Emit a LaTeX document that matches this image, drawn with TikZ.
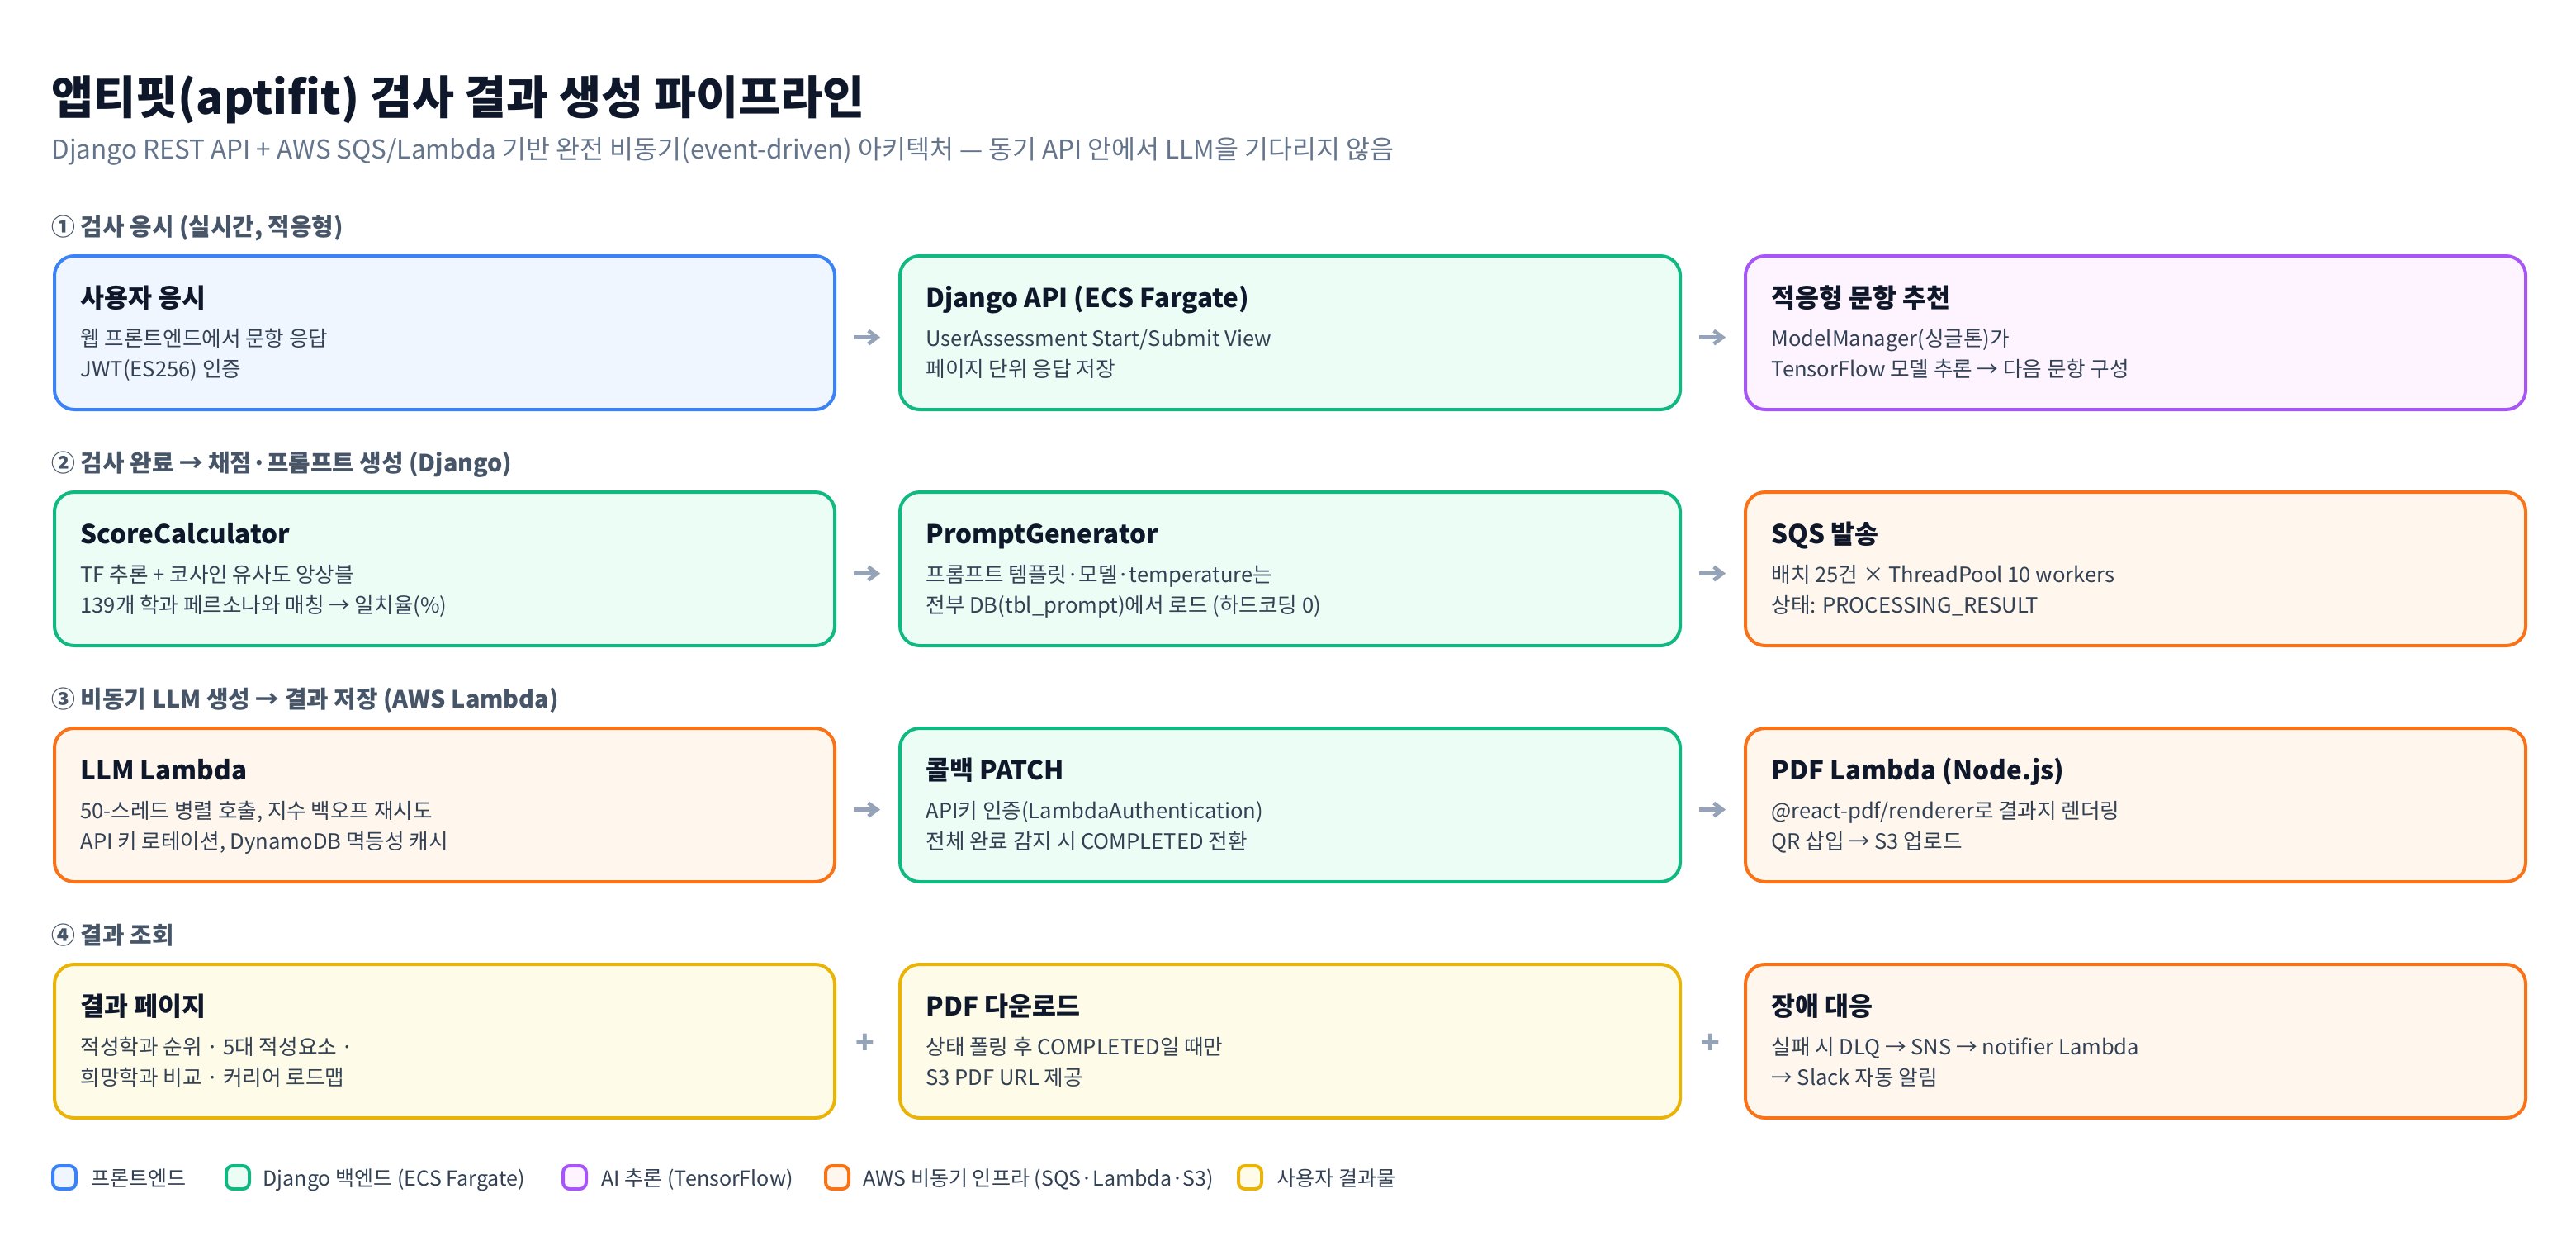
\documentclass[tikz,border=0pt]{standalone}
\usepackage{fontspec}
\setmainfont{Noto Sans CJK KR}
\usetikzlibrary{arrows.meta}
\definecolor{bluel}{HTML}{3B82F6}\definecolor{bluef}{HTML}{EFF6FF}
\definecolor{greenl}{HTML}{10B981}\definecolor{greenf}{HTML}{ECFDF5}
\definecolor{purplel}{HTML}{A855F7}\definecolor{purplef}{HTML}{FDF4FF}
\definecolor{orangel}{HTML}{F97316}\definecolor{orangef}{HTML}{FFF7ED}
\definecolor{yellowl}{HTML}{EAB308}\definecolor{yellowf}{HTML}{FEFCE8}
\definecolor{titlec}{HTML}{0F172A}\definecolor{subc}{HTML}{64748B}
\definecolor{secc}{HTML}{475569}\definecolor{descc}{HTML}{334155}
\definecolor{arrc}{HTML}{94A3B8}
\tikzset{
  box/.style={rectangle, rounded corners=9pt, line width=1.5pt, anchor=north west,
    minimum width=354.4pt, minimum height=69.75pt, inner sep=0pt},
  ttl/.style={anchor=base west, inner sep=0pt, font=\fontsize{11.8pt}{14pt}\selectfont\bfseries, text=titlec},
  dsc/.style={anchor=base west, inner sep=0pt, font=\fontsize{9.6pt}{12pt}\selectfont, text=descc},
  sec/.style={anchor=base west, inner sep=0pt, font=\fontsize{10.8pt}{13pt}\selectfont\bfseries, text=secc},
  conn/.style={draw=arrc, line width=1.7pt, -{Straight Barb[length=4pt,width=6pt]}, shorten <=7.9pt, shorten >=8.2pt},
  plus/.style={text=arrc, font=\fontsize{14pt}{16pt}\selectfont\bfseries, inner sep=0pt},
  lgsq/.style={rectangle, rounded corners=3pt, line width=1.5pt, minimum size=10.5pt, inner sep=0pt},
  lgt/.style={anchor=base west, inner sep=0pt, font=\fontsize{9.4pt}{12pt}\selectfont, text=descc},
}
\newcommand\pbox[7]{%
  \node[box, draw=#4l, fill=#4f] (#1) at (#2+1,#3+1) {};
  \node[ttl] (#1t) at (#2+17.5,#3+33) {#5};
  \node[dsc] (#1a) at (#2+17.5,#3+56.5) {#6};
  \node[dsc] (#1b) at (#2+17.5,#3+75.3) {#7};
}
\begin{document}
\begin{tikzpicture}[x=0.75pt, y=-0.75pt]
\useasboundingbox[fill=white] (0,0) rectangle (1560,760);
\node[anchor=base west, inner sep=0pt, font=\fontsize{20.8pt}{24pt}\selectfont\bfseries, text=titlec] (title) at (31,69) {앱티핏(aptifit) 검사 결과 생성 파이프라인};
\node[anchor=base west, inner sep=0pt, font=\fontsize{11.8pt}{14pt}\selectfont, text=subc] (subtitle) at (31,96) {Django REST API + AWS SQS/Lambda 기반 완전 비동기(event-driven) 아키텍처 — 동기 API 안에서 LLM을 기다리지 않음};
% section labels
\node[sec] (s1) at (31,142.5) {① 검사 응시 (실시간, 적응형)};
\node[sec] (s2) at (31,285.5) {② 검사 완료 → 채점·프롬프트 생성 (Django)};
\node[sec] (s3) at (31,428.5) {③ 비동기 LLM 생성 → 결과 저장 (AWS Lambda)};
\node[sec] (s4) at (31,571.5) {④ 결과 조회};
% row 1
\pbox{a1}{31}{153}{blue}{사용자 응시}{웹 프론트엔드에서 문항 응답}{JWT(ES256) 인증}
\pbox{a2}{543}{153}{green}{Django API (ECS Fargate)}{UserAssessment Start/Submit View}{페이지 단위 응답 저장}
\pbox{a3}{1055}{153}{purple}{적응형 문항 추천}{ModelManager(싱글톤)가}{TensorFlow 모델 추론 → 다음 문항 구성}
% row 2
\pbox{b1}{31}{296}{green}{ScoreCalculator}{TF 추론 + 코사인 유사도 앙상블}{139개 학과 페르소나와 매칭 → 일치율(\%)}
\pbox{b2}{543}{296}{green}{PromptGenerator}{프롬프트 템플릿·모델·temperature는}{전부 DB(tbl\_prompt)에서 로드 (하드코딩 0)}
\pbox{b3}{1055}{296}{orange}{SQS 발송}{배치 25건 × ThreadPool 10 workers}{상태: PROCESSING\_RESULT}
% row 3
\pbox{c1}{31}{439}{orange}{LLM Lambda}{50-스레드 병렬 호출, 지수 백오프 재시도}{API 키 로테이션, DynamoDB 멱등성 캐시}
\pbox{c2}{543}{439}{green}{콜백 PATCH}{API키 인증(LambdaAuthentication)}{전체 완료 감지 시 COMPLETED 전환}
\pbox{c3}{1055}{439}{orange}{PDF Lambda (Node.js)}{@react-pdf/renderer로 결과지 렌더링}{QR 삽입 → S3 업로드}
% row 4
\pbox{d1}{31}{582}{yellow}{결과 페이지}{적성학과 순위 · 5대 적성요소 ·}{희망학과 비교 · 커리어 로드맵}
\pbox{d2}{543}{582}{yellow}{PDF 다운로드}{상태 폴링 후 COMPLETED일 때만}{S3 PDF URL 제공}
\pbox{d3}{1055}{582}{orange}{장애 대응}{실패 시 DLQ → SNS → notifier Lambda}{→ Slack 자동 알림}
% connectors
\draw[conn] ([yshift=-2.1pt]a1.east) -- ([yshift=-2.1pt]a2.west);
\draw[conn] ([yshift=-2.1pt]a2.east) -- ([yshift=-2.1pt]a3.west);
\draw[conn] ([yshift=-2.1pt]b1.east) -- ([yshift=-2.1pt]b2.west);
\draw[conn] ([yshift=-2.1pt]b2.east) -- ([yshift=-2.1pt]b3.west);
\draw[conn] ([yshift=-2.1pt]c1.east) -- ([yshift=-2.1pt]c2.west);
\draw[conn] ([yshift=-2.1pt]c2.east) -- ([yshift=-2.1pt]c3.west);
\node[plus] (p1) at (524,632) {+};
\node[plus] (p2) at (1036,632) {+};
% legend
\node[lgsq, draw=bluel, fill=bluef] (l1) at (39,713) {};
\node[lgt] (l1t) at (55,718) {프론트엔드};
\node[lgsq, draw=greenl, fill=greenf] (l2) at (144,713) {};
\node[lgt] (l2t) at (159,718) {Django 백엔드 (ECS Fargate)};
\node[lgsq, draw=purplel, fill=purplef] (l3) at (348,713) {};
\node[lgt] (l3t) at (364,718) {AI 추론 (TensorFlow)};
\node[lgsq, draw=orangel, fill=orangef] (l4) at (507,713) {};
\node[lgt] (l4t) at (522.5,718) {AWS 비동기 인프라 (SQS·Lambda·S3)};
\node[lgsq, draw=yellowl, fill=yellowf] (l5) at (757,713) {};
\node[lgt] (l5t) at (773,718) {사용자 결과물};
\end{tikzpicture}
\end{document}
